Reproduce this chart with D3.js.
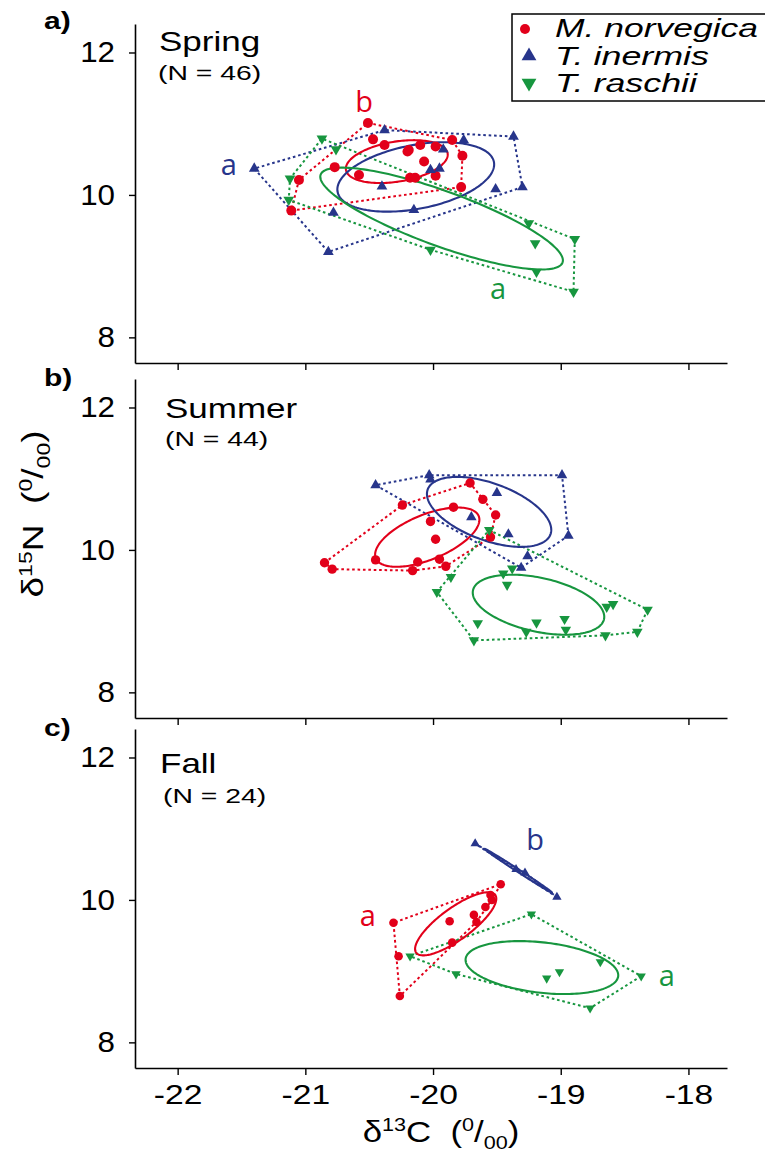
<!DOCTYPE html>
<html><head><meta charset="utf-8">
<script src="https://cdn.jsdelivr.net/npm/d3@7"></script>
<style>body{margin:0;background:#fff}svg{display:block}</style>
</head><body>
<svg id="chart" width="765" height="1152"></svg>
<script>
// ---------- data ----------
const xTicks = [-22, -21, -20, -19, -18];
const yTicks = [8, 10, 12];
const seasons = ["Spring", "Summer", "Fall"];
const sampleN = [46, 44, 24];
const panelTags = ["a)", "b)", "c)"];
const species = ["M. norvegica", "T. inermis", "T. raschii"];

const springMnX = [-20.51,-20.47,-20.38,-20.20,-20.19,-20.10,-19.98,-19.85,-19.77,-20.07,-20.77,-20.58,-20.18,-20.14,-19.98,-19.78,-21.05,-21.11];
const springMnY = [11.01,10.78,10.70,10.61,10.63,10.70,10.68,10.77,10.55,10.47,10.39,10.28,10.24,10.24,10.27,10.11,10.21,9.78];
const springTiX = [-21.40,-20.38,-19.76,-19.37,-19.92,-20.02,-19.95,-20.40,-19.51,-19.30,-20.15,-20.78,-20.82];
const springTiY = [10.37,10.91,10.77,10.82,10.64,10.35,10.37,10.12,10.08,10.11,9.79,9.75,9.20];
const springTrX = [-20.87,-20.76,-21.12,-21.13,-20.02,-19.25,-19.20,-18.89,-19.19,-18.90];
const springTrY = [10.79,10.64,10.23,9.93,9.23,9.60,9.32,9.38,8.92,8.64];

const summerMnX = [-19.71,-19.61,-19.51,-19.55,-19.84,-20.02,-19.98,-20.24,-20.85,-20.79,-20.45,-20.12,-19.95,-19.90,-20.16];
const summerMnY = [10.94,10.71,10.49,10.18,10.60,10.40,10.15,10.63,9.82,9.73,9.86,9.83,9.87,9.77,9.71];
const summerTiX = [-20.45,-20.03,-20.02,-18.99,-19.50,-19.70,-19.41,-18.94,-19.26,-19.31];
const summerTiY = [10.91,11.05,10.99,11.05,10.80,10.46,10.22,10.20,9.91,9.75];
const summerTrX = [-19.56,-19.86,-19.97,-19.45,-19.42,-19.38,-19.65,-19.68,-19.27,-19.19,-18.97,-18.96,-18.65,-18.64,-18.59,-18.32,-18.40];
const summerTrY = [10.28,9.62,9.41,9.67,9.51,9.74,8.97,8.73,8.85,8.98,9.03,8.88,8.80,9.20,9.24,9.16,8.85];

const fallMnX = [-19.47,-19.55,-19.54,-19.59,-19.68,-19.66,-19.87,-19.85,-20.31,-20.27,-20.26];
const fallMnY = [10.22,10.07,10.00,9.90,9.79,9.69,9.70,9.40,9.68,9.21,8.65];
const fallTiX = [-19.67,-19.35,-19.28,-19.03];
const fallTiY = [10.79,10.43,10.38,10.04];
const fallTrX = [-19.23,-20.18,-19.82,-19.11,-19.01,-18.69,-18.37,-18.77];
const fallTrY = [9.80,9.21,8.96,8.90,8.99,9.13,8.93,8.48];

// significance letters: season index, species index, letter, position (data units)
const groupSeason = [0, 0, 0, 2, 2, 2];
const groupSpecies = [0, 1, 2, 0, 1, 2];
const groupLetter = ["b", "a", "a", "a", "b", "a"];
const groupX = [-20.54, -21.60, -19.49, -20.51, -19.20, -18.17];
const groupY = [11.30, 10.41, 8.68, 9.77, 10.84, 8.93];

// ---------- layout ----------
const colors = ["#e2001a", "#27358b", "#17963f"];
const plotLeft = 135, plotRight = 727;
const panelTops = [24, 379, 729], panelH = 339;
const yDomain = [7.64, 12.40];
const xDomain = [-22.334, -17.698];
const titlePos = [[159, 51], [165, 418], [160, 773]];
const nPos = [[158, 80], [165, 446], [163, 803]];
const tagBase = [29, 386, 736];
const FONT = "'Liberation Sans', Arial, Helvetica, sans-serif";

const svg = d3.select("#chart");
const x = d3.scaleLinear().domain(xDomain).range([plotLeft, plotRight]);

const seriesBySeason = [
  [[springMnX, springMnY], [springTiX, springTiY], [springTrX, springTrY]],
  [[summerMnX, summerMnY], [summerTiX, summerTiY], [summerTrX, summerTrY]],
  [[fallMnX, fallMnY], [fallTiX, fallTiY], [fallTrX, fallTrY]]
];

function stretch(sel, k) {
  sel.each(function () {
    const w = this.getComputedTextLength();
    d3.select(this).attr("textLength", w * k).attr("lengthAdjust", "spacingAndGlyphs");
  });
}

// standard ellipse (1 SD) from covariance of the points
function standardEllipse(xs, ys) {
  const n = xs.length, mx = d3.mean(xs), my = d3.mean(ys);
  let sxx = 0, syy = 0, sxy = 0;
  for (let i = 0; i < n; i++) {
    const dx = xs[i] - mx, dy = ys[i] - my;
    sxx += dx * dx; syy += dy * dy; sxy += dx * dy;
  }
  sxx /= (n - 1); syy /= (n - 1); sxy /= (n - 1);
  const tr = sxx + syy, det = sxx * syy - sxy * sxy;
  const disc = Math.sqrt(Math.max(0, tr * tr / 4 - det));
  const l1 = tr / 2 + disc, l2 = Math.max(0, tr / 2 - disc);
  const th = 0.5 * Math.atan2(2 * sxy, sxx - syy);
  const a = Math.sqrt(l1), b = Math.sqrt(l2);
  return d3.range(0, 360, 2).map(deg => {
    const t = deg * Math.PI / 180;
    const u = a * Math.cos(t), v = b * Math.sin(t);
    return [mx + u * Math.cos(th) - v * Math.sin(th), my + u * Math.sin(th) + v * Math.cos(th)];
  });
}

const markerSize = [[5.0, 50], [4.7, 48], [4.3, 38]];

seasons.forEach((season, si) => {
  const top = panelTops[si];
  const y = d3.scaleLinear().domain(yDomain).range([top + panelH, top]);
  const g = svg.append("g");

  // axes
  const ya = g.append("g").attr("transform", `translate(${plotLeft},0)`)
    .call(d3.axisLeft(y).tickValues(yTicks).tickSize(6).tickSizeOuter(0).tickPadding(14).tickFormat(d => String(d)));
  const xa = g.append("g").attr("transform", `translate(0,${top + panelH})`)
    .call(d3.axisBottom(x).tickValues(xTicks).tickSize(7).tickSizeOuter(0).tickPadding(9)
      .tickFormat(si === 2 ? (d => String(d)) : (() => "")));
  [ya, xa].forEach(a => {
    a.select(".domain").attr("stroke", "#000").attr("stroke-width", 1.6);
    a.selectAll(".tick line").attr("stroke", "#000").attr("stroke-width", 1.4);
    a.selectAll("text").attr("font-family", FONT).attr("fill", "#000");
  });
  ya.selectAll("text").attr("font-size", 29).call(stretch, 1.08);
  xa.selectAll("text").attr("font-size", 28).attr("dy", "0.71em").call(stretch, 1.2);

  // panel tag & titles
  g.append("text").attr("x", 44).attr("y", tagBase[si]).attr("font-family", FONT)
    .attr("font-weight", "bold").attr("font-size", 24).text(panelTags[si]).call(stretch, 1.25);
  g.append("text").attr("x", titlePos[si][0]).attr("y", titlePos[si][1]).attr("font-family", FONT)
    .attr("font-size", 28).text(season).call(stretch, 1.25);
  g.append("text").attr("x", nPos[si][0]).attr("y", nPos[si][1]).attr("font-family", FONT)
    .attr("font-size", 21).text(`(N = ${sampleN[si]})`).call(stretch, 1.35);

  const series = seriesBySeason[si];
  const lineGen = d3.line().x(d => x(d[0])).y(d => y(d[1])).curve(d3.curveLinearClosed);

  // convex hulls (dotted)
  series.forEach((s, k) => {
    const pts = s[0].map((v, i) => [v, s[1][i]]);
    const hull = d3.polygonHull(pts);
    g.append("path").attr("d", lineGen(hull)).attr("fill", "none")
      .attr("stroke", colors[k]).attr("stroke-width", 2).attr("stroke-dasharray", "2.6,2.8");
  });
  // standard ellipses
  series.forEach((s, k) => {
    g.append("path").attr("d", lineGen(standardEllipse(s[0], s[1]))).attr("fill", "none")
      .attr("stroke", colors[k]).attr("stroke-width", 2.1);
  });
  // points
  const ms = markerSize[si];
  series.forEach((s, k) => {
    const pts = s[0].map((v, i) => [v, s[1][i]]);
    if (k === 0) {
      g.selectAll(null).data(pts).enter().append("circle")
        .attr("cx", d => x(d[0])).attr("cy", d => y(d[1])).attr("r", ms[0]).attr("fill", colors[k]);
    } else {
      const sym = d3.symbol().type(d3.symbolTriangle).size(ms[1]);
      g.selectAll(null).data(pts).enter().append("path").attr("d", sym)
        .attr("transform", d => `translate(${x(d[0])},${y(d[1])})` + (k === 2 ? " rotate(180)" : ""))
        .attr("fill", colors[k]);
    }
  });
  // group letters
  groupLetter.forEach((L, i) => {
    if (groupSeason[i] !== si) return;
    g.append("text").attr("x", x(groupX[i])).attr("y", y(groupY[i])).attr("dy", "0.33em")
      .attr("text-anchor", "middle").attr("font-family", "'Open Sans', 'Noto Sans', sans-serif")
      .attr("font-size", 29).attr("fill", colors[groupSpecies[i]]).text(L);
  });
});

// legend
const lg = svg.append("g");
lg.append("rect").attr("x", 512).attr("y", 14).attr("width", 300).attr("height", 87)
  .attr("fill", "#fff").attr("stroke", "#000").attr("stroke-width", 1.5);
const legY = [29, 56, 83], legBase = [37, 65, 92], legW = [203, 154, 142];
species.forEach((sp, k) => {
  if (k === 0) {
    lg.append("circle").attr("cx", 525).attr("cy", legY[k]).attr("r", 5).attr("fill", colors[k]);
  } else {
    lg.append("path").attr("d", d3.symbol().type(d3.symbolTriangle).size(95))
      .attr("transform", `translate(529,${legY[k]})` + (k === 2 ? " rotate(180)" : ""))
      .attr("fill", colors[k]);
  }
  lg.append("text").attr("x", 555).attr("y", legBase[k]).attr("font-family", FONT)
    .attr("font-style", "italic").attr("font-size", 25).attr("textLength", legW[k])
    .attr("lengthAdjust", "spacingAndGlyphs").text(sp);
});

// axis titles
function isoLabel(t, mass, elem) {
  t.append("tspan").text("δ");
  t.append("tspan").attr("font-size", 18).attr("dy", -11).text(mass);
  t.append("tspan").attr("dy", 11).text(elem + "\u00a0\u00a0(");
  t.append("tspan").attr("font-size", 18).attr("dy", -11).text("0");
  t.append("tspan").attr("dy", 11).text("/");
  t.append("tspan").attr("font-size", 18).attr("dy", 7).text("00");
  t.append("tspan").attr("dy", -7).text(")");
}
const xt = svg.append("text").attr("transform", "translate(441,1142) scale(1.2,1)").attr("text-anchor", "middle")
  .attr("font-family", FONT).attr("font-size", 29);
isoLabel(xt, "13", "C");

const yt = svg.append("text").attr("transform", "translate(43,514) rotate(-90) scale(1.28,1)").attr("text-anchor", "middle")
  .attr("font-family", FONT).attr("font-size", 29);
isoLabel(yt, "15", "N");
</script>
</body></html>
